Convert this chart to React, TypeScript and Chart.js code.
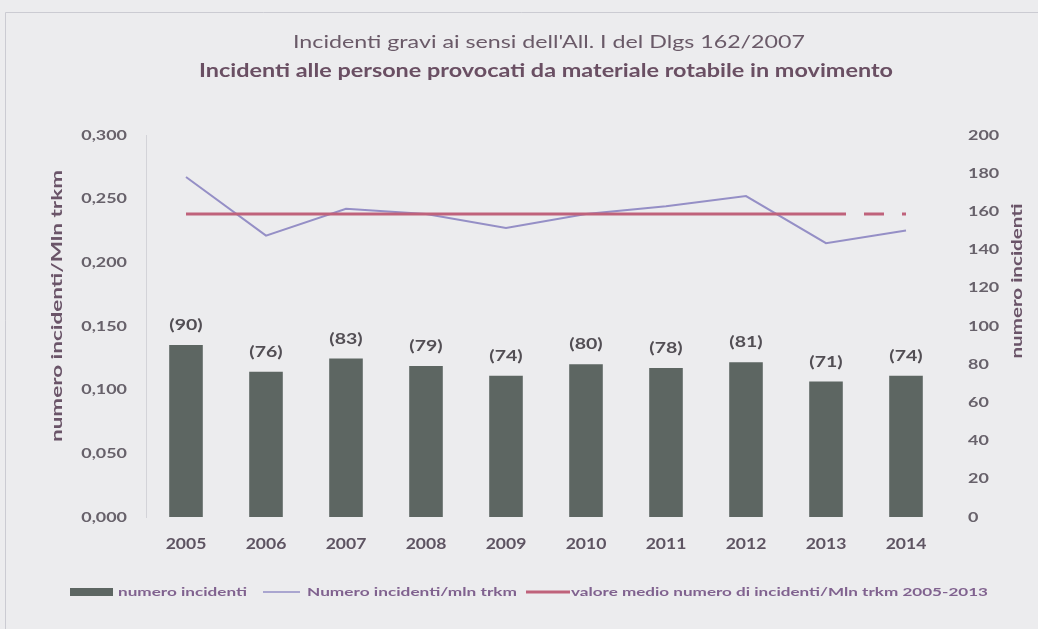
import React, { useEffect, useRef } from "react";
import { Chart, registerables } from "chart.js";

Chart.register(...registerables);

const YEARS = ["2005", "2006", "2007", "2008", "2009", "2010", "2011", "2012", "2013", "2014"];
const INCIDENT_COUNTS = [90, 76, 83, 79, 74, 80, 78, 81, 71, 74];
const RATE_PER_MTRKM = [0.267, 0.221, 0.242, 0.238, 0.227, 0.238, 0.244, 0.252, 0.215, 0.225];
const AVG_RATE_2005_2013 = [0.238, 0.238, 0.238, 0.238, 0.238, 0.238, 0.238, 0.238, 0.238, 0.238];
const LEFT_TICKS = ["0,000", "0,050", "0,100", "0,150", "0,200", "0,250", "0,300"];
const RIGHT_TICKS = ["0", "20", "40", "60", "80", "100", "120", "140", "160", "180", "200"];

const TITLE_1 = "Incidenti gravi ai sensi dell'All. I del Dlgs 162/2007";
const TITLE_2 = "Incidenti alle persone provocati da materiale rotabile in movimento";
const LEFT_TITLE = "numero incidenti/Mln trkm";
const RIGHT_TITLE = "numero incidenti";
const LEGEND_BAR = "numero incidenti";
const LEGEND_RATE = "Numero incidenti/mln trkm";
const LEGEND_AVG = "valore medio numero di incidenti/Mln trkm 2005-2013";

const FONT = "Lato, 'Open Sans', sans-serif";
const BAR_COLOR = "#5d6662";
const RATE_COLOR = "#958fc6";
const AVG_COLOR = "#bf627b";

type TextOpts = { sx?: number; width?: number; rotate?: number; align?: CanvasTextAlign };

function drawText(ctx: CanvasRenderingContext2D, text: string, x: number, y: number, font: string, color: string, o: TextOpts = {}) {
  ctx.save();
  ctx.font = font;
  const w = ctx.measureText(text).width;
  const sx = o.width ? o.width / w : o.sx ?? 1;
  ctx.translate(x, y);
  if (o.rotate) ctx.rotate(o.rotate);
  ctx.scale(sx, 1);
  ctx.fillStyle = color;
  ctx.textAlign = o.align ?? "center";
  ctx.textBaseline = "middle";
  ctx.fillText(text, 0, 0);
  ctx.restore();
}

const textPlugin = {
  id: "textPlugin",
  afterDraw(chart: any) {
    const ctx: CanvasRenderingContext2D = chart.ctx;
    const { chartArea } = chart;
    const xs = chart.scales.x;
    const yl = chart.scales.y;
    const yr = chart.scales.y1;

    // frame
    ctx.save();
    ctx.strokeStyle = "rgba(200,200,206,0.9)";
    ctx.lineWidth = 1;
    ctx.beginPath();
    ctx.moveTo(5.5, 629);
    ctx.lineTo(5.5, 12.5);
    ctx.lineTo(1038, 12.5);
    ctx.stroke();
    ctx.restore();

    // titles
    drawText(ctx, TITLE_1, 549, 43, `17px ${FONT}`, "#6a5a68", { width: 512 });
    drawText(ctx, TITLE_2, 546, 71, `bold 18px ${FONT}`, "#6a4f63", { width: 694 });

    // axis titles
    drawText(ctx, LEFT_TITLE, 57, 306, `bold 15px ${FONT}`, "#6a5468", { width: 272, rotate: -Math.PI / 2 });
    drawText(ctx, RIGHT_TITLE, 1017, 281, `bold 15px ${FONT}`, "#6a5468", { width: 155, rotate: -Math.PI / 2 });

    // left ticks
    LEFT_TICKS.forEach((t) => {
      const v = parseFloat(t.replace(",", "."));
      drawText(ctx, t, 127, yl.getPixelForValue(v), `bold 14px ${FONT}`, "#67616a", { sx: 1.28, align: "right" });
    });
    // right ticks
    RIGHT_TICKS.forEach((t) => {
      drawText(ctx, t, 968, yr.getPixelForValue(parseFloat(t)), `bold 14px ${FONT}`, "#67616a", { sx: 1.28, align: "left" });
    });
    // x labels
    YEARS.forEach((yv, i) => {
      drawText(ctx, yv, xs.getPixelForTick(i), chartArea.bottom + 27, `bold 15px ${FONT}`, "#5e5462", { sx: 1.17 });
    });
    // bar labels
    const meta = chart.getDatasetMeta(0);
    meta.data.forEach((bar: any, i: number) => {
      drawText(ctx, `(${INCIDENT_COUNTS[i]})`, bar.x, bar.y - 20, `bold 16px ${FONT}`, "#524e54", { sx: 1.22 });
    });

    // legend
    const ly = 592;
    ctx.save();
    ctx.fillStyle = BAR_COLOR;
    ctx.fillRect(70, ly - 4, 43, 8);
    ctx.strokeStyle = RATE_COLOR;
    ctx.lineWidth = 1.5;
    ctx.beginPath();
    ctx.moveTo(263, ly);
    ctx.lineTo(300, ly);
    ctx.stroke();
    ctx.strokeStyle = AVG_COLOR;
    ctx.lineWidth = 3;
    ctx.beginPath();
    ctx.moveTo(526, ly);
    ctx.lineTo(570, ly);
    ctx.stroke();
    ctx.restore();
    const lc = "#80628f";
    drawText(ctx, LEGEND_BAR, 118, ly, `bold 12px ${FONT}`, lc, { width: 129, align: "left" });
    drawText(ctx, LEGEND_RATE, 307, ly, `bold 12px ${FONT}`, lc, { width: 210, align: "left" });
    drawText(ctx, LEGEND_AVG, 571, ly, `bold 12px ${FONT}`, lc, { width: 417, align: "left" });
  },
};

const bgPlugin = {
  id: "bgPlugin",
  beforeDraw(chart: any) {
    const ctx = chart.ctx;
    ctx.save();
    ctx.fillStyle = "#ececee";
    ctx.fillRect(0, 0, chart.width, chart.height);
    ctx.restore();
  },
};

export default function App() {
  const ref = useRef<HTMLCanvasElement | null>(null);
  useEffect(() => {
    if (!ref.current) return;
    const last = YEARS.length - 2;
    const chart = new Chart(ref.current, {
      type: "bar",
      data: {
        labels: YEARS,
        datasets: [
          {
            type: "bar",
            label: LEGEND_BAR,
            data: INCIDENT_COUNTS,
            yAxisID: "y1",
            backgroundColor: BAR_COLOR,
            barPercentage: 0.42,
            categoryPercentage: 1,
            order: 3,
          },
          {
            type: "line",
            label: LEGEND_RATE,
            data: RATE_PER_MTRKM,
            yAxisID: "y",
            borderColor: RATE_COLOR,
            borderWidth: 2,
            pointRadius: 0,
            tension: 0,
            fill: false,
            order: 2,
          },
          {
            type: "line",
            label: LEGEND_AVG,
            data: AVG_RATE_2005_2013,
            yAxisID: "y",
            borderColor: AVG_COLOR,
            borderWidth: 3,
            pointRadius: 0,
            tension: 0,
            fill: false,
            order: 1,
            segment: {
              borderDash: (c: any) => (c.p0DataIndex >= last ? [20, 18] : undefined),
            },
          } as any,
        ],
      },
      options: {
        animation: false,
        responsive: false,
        layout: { padding: { top: 135, bottom: 62, left: 0, right: 0 } },
        plugins: { legend: { display: false }, tooltip: { enabled: false }, title: { display: false } },
        scales: {
          x: {
            type: "category",
            offset: true,
            grid: { display: false, drawTicks: false },
            border: { display: false },
            ticks: { display: false },
            afterFit: (s: any) => {
              s.height = 50;
            },
          },
          y: {
            position: "left",
            min: 0,
            max: 0.3,
            ticks: { display: false, stepSize: 0.05 },
            grid: { display: false, drawTicks: false },
            border: { display: true, color: "rgba(205,205,210,0.8)" },
            afterFit: (s: any) => {
              s.width = 146;
            },
          },
          y1: {
            position: "right",
            min: 0,
            max: 200,
            ticks: { display: false, stepSize: 20 },
            grid: { display: false, drawTicks: false },
            border: { display: false },
            afterFit: (s: any) => {
              s.width = 92;
            },
          },
        },
      },
      plugins: [bgPlugin, textPlugin],
    });
    return () => chart.destroy();
  }, []);
  return (
    <div style={{ position: "fixed", left: 0, top: 0, width: 1038, height: 629, background: "#ececee" }}>
      <canvas ref={ref} width={1038} height={629} style={{ display: "block" }} />
    </div>
  );
}
